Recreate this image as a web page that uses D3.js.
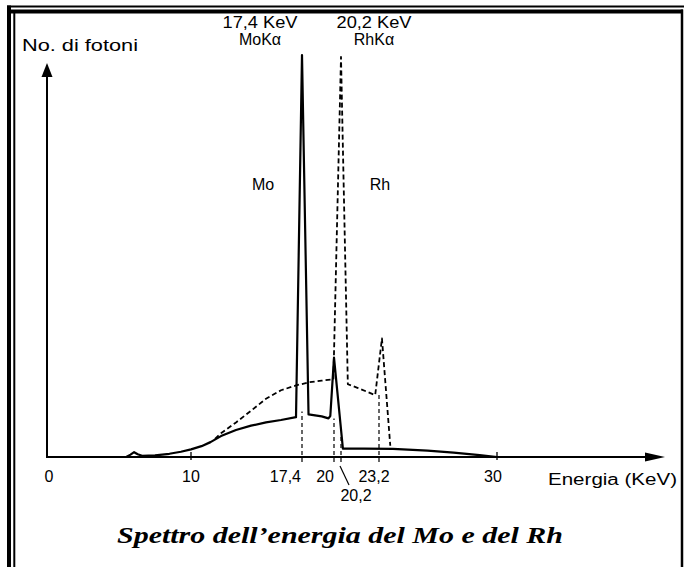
<!DOCTYPE html>
<html>
<head>
<meta charset="utf-8"/>
<script src="https://d3js.org/d3.v7.min.js"></script>
<style>
  body { margin: 0; background: #fff; }
  text { font-family: "Liberation Sans", Arial, sans-serif; fill: #000; }
</style>
</head>
<body>
<div id="chart"></div>
<script>
// values: energy in keV, photon counts (peak Mo = 100)
var moEnergy = [0, 5.5, 5.8, 6.05, 6.3, 6.6, 7.5, 8.5, 9.3, 10, 10.7, 11.3, 12, 13, 14, 15, 16, 17.0,
                17.4, 17.93, 19.0, 19.55, 19.7, 20, 20.35, 22, 24, 26, 27.5, 29, 30, 30.6];
var moCounts = [0, 0, 0.6, 1.2, 0.7, 0.3, 0.4, 0.8, 1.3, 1.9, 2.7, 3.7, 5.2, 6.7, 7.8, 8.6, 9.2, 9.9,
                100, 10.6, 10.1, 9.6, 10.2, 24.7, 2.1, 2.1, 2.0, 1.6, 1.1, 0.45, 0, 0];
var rhEnergy = [11.6, 12, 13, 14, 15, 16, 17, 18, 19, 19.95, 20.2, 20.74, 21.5, 22.9, 23.37, 23.85];
var rhCounts = [4.5, 5.9, 8.6, 11.5, 14.5, 16.6, 17.8, 18.6, 19.0, 19.3, 99.5, 18.1, 17.2, 15.4, 29.5, 2.8];

var axisKnots = [0, 10, 17.4, 20, 20.2, 23.2, 30];   // the energy axis is drawn out of scale
var tickValues = [0, 10, 17.4, 20, 23.2, 30];
var tickLabels = ["0", "10", "17,4", "20", "23,2", "30"];
var guideEnergy = [17.4, 20, 20.2, 23.2];
var guideTop = [11.3, 9.6, 5.5, 15.4];
var peakLabels = [["17,4 KeV", "MoK\u03b1"], ["20,2 KeV", "RhK\u03b1"]];

var W = 684, H = 567;
var svg = d3.select("#chart").append("svg").attr("width", W).attr("height", H);

// double frame of the scan
var frame = svg.append("g").attr("stroke", "#000");
frame.append("line").attr("x1", 7).attr("x2", 684).attr("y1", 6.5).attr("y2", 6.5).attr("stroke-width", 2);
frame.append("line").attr("x1", 7).attr("x2", 683).attr("y1", 11.5).attr("y2", 11.5).attr("stroke-width", 4);
frame.append("line").attr("x1", 9).attr("x2", 9).attr("y1", 5.5).attr("y2", H).attr("stroke-width", 4);
frame.append("line").attr("x1", 14.3).attr("x2", 14.3).attr("y1", 11).attr("y2", H).attr("stroke-width", 2);
frame.append("line").attr("x1", 682).attr("x2", 682).attr("y1", 9.5).attr("y2", H).attr("stroke-width", 2.5);

var x = d3.scaleLinear().domain(axisKnots).range([47, 191, 302, 334, 341, 379, 497]);
var y = d3.scaleLinear().domain([0, 100]).range([457, 55]);
var y0 = y(0);

var line = d3.line().x(function(d) { return x(d[0]); }).y(function(d) { return y(d[1]); });

// axes with arrows
svg.append("line").attr("x1", x(0)).attr("x2", 650).attr("y1", y0).attr("y2", y0)
  .attr("stroke", "#000").attr("stroke-width", 2);
svg.append("path").attr("d", "M665," + y0 + "L645," + (y0 - 4.5) + "L645," + (y0 + 4.5) + "Z");
svg.append("line").attr("x1", x(0)).attr("x2", x(0)).attr("y1", y0 + 1).attr("y2", 74)
  .attr("stroke", "#000").attr("stroke-width", 2);
svg.append("path").attr("d", "M" + x(0) + ",63L" + (x(0) - 5.5) + ",77L" + (x(0) + 5.5) + ",77Z");

// small tick marks
svg.selectAll(".tk").data([10, 30]).enter().append("line")
  .attr("x1", function(d) { return x(d); }).attr("x2", function(d) { return x(d); })
  .attr("y1", y0 - 5).attr("y2", y0 + 3).attr("stroke", "#000").attr("stroke-width", 1.3);

// dashed guides
svg.selectAll(".guide").data(guideEnergy).enter().append("line")
  .attr("x1", function(d) { return x(d); }).attr("x2", function(d) { return x(d); })
  .attr("y1", y0 + 5).attr("y2", function(d, i) { return y(guideTop[i]); })
  .attr("stroke", "#000").attr("stroke-width", 1.2).attr("stroke-dasharray", "4,3");

// spectra
svg.append("path").datum(d3.zip(rhEnergy, rhCounts)).attr("d", line)
  .attr("fill", "none").attr("stroke", "#000").attr("stroke-width", 1.8)
  .attr("stroke-dasharray", "5,3").attr("stroke-linejoin", "round");
svg.append("path").datum(d3.zip(moEnergy, moCounts)).attr("d", line)
  .attr("fill", "none").attr("stroke", "#000").attr("stroke-width", 2.2)
  .attr("stroke-linejoin", "round");

// tick labels
var tickAnchor = ["middle", "middle", "end", "end", "middle", "middle"];
var tickShift = [2, 0, -1, 0, -5, -4];
svg.selectAll(".tl").data(tickValues).enter().append("text")
  .attr("x", function(d, i) { return x(d) + tickShift[i]; }).attr("y", 482)
  .attr("text-anchor", function(d, i) { return tickAnchor[i]; })
  .attr("font-size", 16).text(function(d, i) { return tickLabels[i]; });
svg.append("text").attr("x", x(20.2) + 15).attr("y", 501).attr("text-anchor", "middle")
  .attr("font-size", 16).text("20,2");
svg.append("line").attr("x1", x(20.2) - 1).attr("y1", 466).attr("x2", x(20.2) + 8).attr("y2", 485)
  .attr("stroke", "#000").attr("stroke-width", 1.2);

// axis titles
svg.append("text").attr("x", 22).attr("y", 51).attr("font-size", 16)
  .attr("textLength", 116).attr("lengthAdjust", "spacingAndGlyphs").text("No. di fotoni");
svg.append("text").attr("x", 548).attr("y", 485).attr("font-size", 16)
  .attr("textLength", 129).attr("lengthAdjust", "spacingAndGlyphs").text("Energia (KeV)");

// peak captions
var capX = [260, 374];
peakLabels.forEach(function(p, i) {
  svg.append("text").attr("x", capX[i]).attr("y", 28).attr("text-anchor", "middle")
    .attr("font-size", 16).attr("textLength", 75).attr("lengthAdjust", "spacingAndGlyphs").text(p[0]);
  svg.append("text").attr("x", capX[i]).attr("y", 45).attr("text-anchor", "middle")
    .attr("font-size", 16).text(p[1]);
});
svg.append("text").attr("x", 263).attr("y", 190).attr("text-anchor", "middle").attr("font-size", 16).text("Mo");
svg.append("text").attr("x", 380).attr("y", 190).attr("text-anchor", "middle").attr("font-size", 16).text("Rh");

// caption
svg.append("text").attr("x", 340).attr("y", 543).attr("text-anchor", "middle")
  .style("font-family", "'Liberation Serif', 'Times New Roman', serif")
  .attr("font-weight", "bold").attr("font-style", "italic").attr("font-size", 24)
  .attr("textLength", 446).attr("lengthAdjust", "spacingAndGlyphs")
  .text("Spettro dell\u2019energia del Mo e del Rh");
</script>
</body>
</html>
